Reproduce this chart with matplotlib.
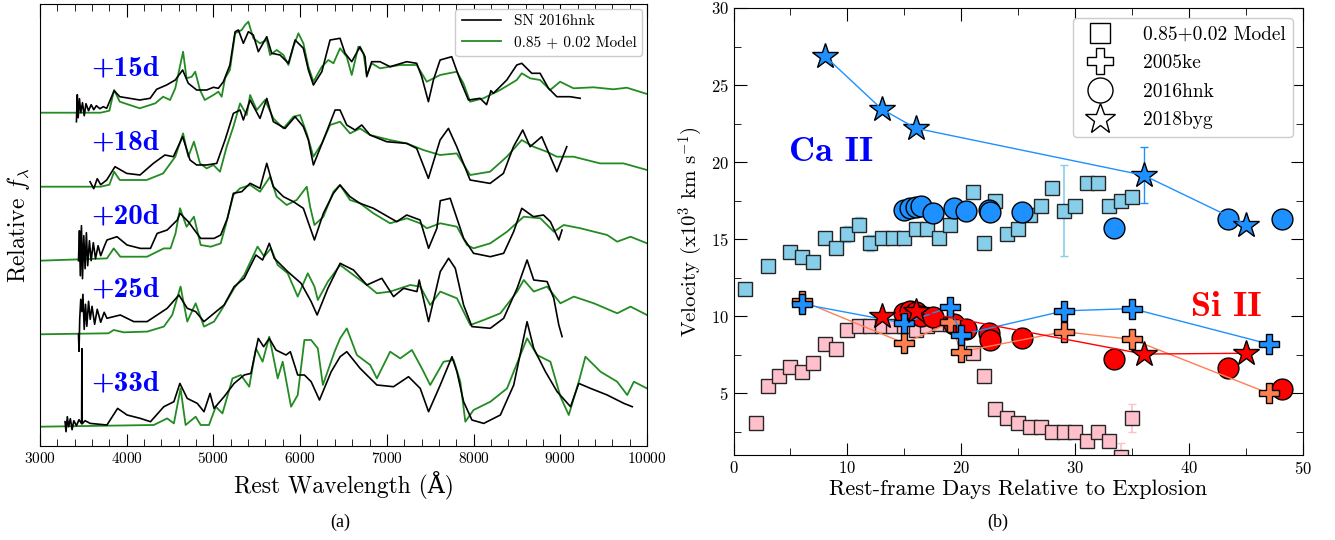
import matplotlib
matplotlib.use("Agg")
import matplotlib.pyplot as plt
from matplotlib.lines import Line2D

plt.rcParams['font.family'] = ['cmr10', 'DejaVu Serif']
plt.rcParams['mathtext.fontset'] = 'cm'
plt.rcParams['axes.formatter.use_mathtext'] = True

# ---- panel (a): spectra, (wavelength, height above baseline) ----
epochs = ["+15d", "+18d", "+20d", "+25d", "+33d"]

m15 = [(3000, 0), (3700, 0), (3800, 2), (3855, 22.7), (3920, 11), (4150, 4.4), (4330, 9.4),
       (4420, 16), (4500, 12.7), (4560, 24.4), (4650, 61), (4690, 34.4), (4750, 36), (4790, 41),
       (4845, 22.7), (4900, 12.7), (5000, 17.7), (5057, 21), (5095, 16), (5134, 34.4), (5190, 42.7),
       (5250, 79.4), (5326, 82.7), (5365, 87.7), (5403, 91), (5460, 74.4), (5537, 69.4), (5615, 72.7),
       (5653, 57.7), (5730, 62.7), (5807, 57.7), (5865, 47.7), (5922, 66), (5980, 79.4), (6037, 69.4),
       (6095, 46), (6153, 31), (6250, 46), (6326, 52.7), (6384, 49.4), (6460, 64.4), (6537, 56),
       (6595, 37.7), (6671, 66), (6730, 59.4), (6768, 37.7), (6825, 49.4), (6921, 44.4), (7037, 46),
       (7152, 47.7), (7344, 47.7), (7460, 31), (7614, 37.7), (7806, 41), (7883, 29.4), (7960, 11),
       (8113, 14.4), (8306, 22.7), (8498, 32.7), (8556, 39.4), (8652, 34.4), (8767, 32.7), (8883, 22.7),
       (8998, 31), (9152, 24.4), (9383, 25.4), (9613, 23.4), (9767, 25), (10000, 18.7)]
o15 = [(3420, -9), (3430, 18), (3440, -5), (3455, 14), (3470, 0), (3490, 10), (3510, -3), (3530, 9),
       (3560, 2), (3590, 8), (3620, 3), (3650, 7), (3690, 4), (3730, 6), (3769, 4.4), (3855, 22),
       (3920, 16), (4150, 12.7), (4270, 14.4), (4345, 23.4), (4460, 27.7), (4560, 32.7), (4645, 42.7),
       (4710, 29.4), (4807, 22.7), (4922, 22.7), (5000, 25.4), (5057, 24.4), (5115, 31), (5190, 47.7),
       (5250, 81), (5288, 82.7), (5345, 69.4), (5403, 81), (5460, 77.7), (5518, 61), (5615, 76),
       (5672, 59.4), (5768, 57.7), (5865, 49.4), (5942, 72.7), (6037, 64.4), (6095, 42.7), (6153, 27.7),
       (6250, 41), (6345, 72.7), (6460, 74.4), (6518, 59.4), (6595, 51), (6690, 66), (6748, 56),
       (6768, 36), (6825, 51), (6921, 51), (7037, 46), (7229, 51), (7344, 49.4), (7402, 36), (7479, 11),
       (7537, 32.7), (7614, 52.7), (7748, 56), (7845, 32.7), (7941, 12.7), (8075, 14.4), (8150, 8),
       (8200, 22), (8229, 19.4), (8383, 32.7), (8498, 47.7), (8556, 49.4), (8671, 39.4), (8767, 39.4),
       (8864, 24.4), (8960, 16), (9114, 16), (9229, 14.4)]

m18 = [(3000, 0), (3700, 0), (3800, 2), (3855, 15), (3920, 6.7), (4230, 6.7), (4420, 13.3), (4560, 30),
       (4650, 53.3), (4710, 30), (4775, 45), (4845, 23.3), (4922, 18.3), (5000, 21.7), (5076, 15),
       (5153, 40), (5230, 60), (5307, 83.3), (5384, 71.7), (5423, 91.7), (5500, 76.7), (5595, 86.7),
       (5691, 68.3), (5807, 58.3), (5922, 70), (5999, 71.7), (6076, 53.3), (6153, 30), (6250, 43.3),
       (6345, 61.7), (6460, 65), (6575, 53.3), (6690, 58.3), (6806, 51.7), (7037, 46.7), (7229, 43.3),
       (7421, 36.7), (7614, 31.7), (7806, 33.3), (7960, 11.7), (8190, 15), (8383, 30), (8556, 46.7),
       (8690, 40), (8844, 35), (8960, 30), (9152, 30), (9459, 23.3), (9729, 23.3), (10000, 16.7)]
o18 = [(3577, 5), (3620, -2), (3660, 8), (3700, 2), (3769, 6.7), (3865, 20), (4000, 13.3), (4153, 11.7),
       (4307, 23.3), (4440, 31.7), (4538, 30), (4645, 50), (4730, 26.7), (4807, 21.7), (4922, 21.7),
       (5038, 23.3), (5134, 46.7), (5230, 73.3), (5307, 76.7), (5345, 66.7), (5423, 86.7), (5537, 68.3),
       (5615, 88.3), (5691, 65), (5826, 58.3), (5942, 70), (6037, 60), (6095, 46.7), (6153, 21.7),
       (6268, 46.7), (6403, 76.7), (6460, 76.7), (6537, 61.7), (6633, 56.7), (6710, 61.7), (6806, 51.7),
       (6998, 45), (7229, 43.3), (7344, 38.3), (7479, 8.3), (7614, 46.7), (7710, 58.3), (7806, 40),
       (7960, 6.7), (8190, 3.3), (8344, 13.3), (8460, 40), (8567, 56.7), (8652, 40), (8786, 50),
       (8960, 15), (9075, 40)]

m20 = [(3000, 0), (3772, 2.3), (3850, 12.3), (3926, 4), (4235, 4), (4428, 12.3), (4505, 12.3),
       (4563, 27.3), (4615, 52.4), (4690, 34), (4775, 44), (4853, 15.7), (4969, 14), (5084, 17.3),
       (5142, 35.7), (5230, 65.7), (5307, 72.4), (5423, 75.7), (5537, 69), (5653, 84), (5730, 64),
       (5845, 55.7), (5960, 60.7), (6076, 74), (6115, 54), (6165, 35.7), (6268, 44), (6384, 69),
       (6460, 75.7), (6575, 60.7), (6690, 57.4), (6845, 47.4), (7037, 37.4), (7229, 42.4), (7383, 37.4),
       (7462, 32.4), (7616, 37.4), (7808, 34), (7924, 15.7), (8000, 12.4), (8193, 17.4), (8386, 29),
       (8578, 44), (8771, 42.4), (8925, 29), (9040, 35.7), (9233, 32.4), (9541, 25.7), (9656, 19),
       (9810, 24), (10000, 17.4)]
o20 = [(3444, 0), (3455, 30), (3465, -15), (3478, 35), (3490, -18), (3505, 25), (3520, -8), (3535, 28),
       (3550, -5), (3570, 20), (3590, 0), (3615, 18), (3640, 2), (3670, 15), (3700, 5), (3740, 14),
       (3772, 20.7), (3888, 24), (4004, 15.7), (4158, 12.3), (4274, 12.3), (4351, 27.3), (4467, 30.7),
       (4583, 40.7), (4615, 47.4), (4710, 39), (4853, 22.3), (5007, 22.3), (5084, 25.7), (5161, 42.3),
       (5230, 67.4), (5326, 69), (5423, 77.4), (5537, 72.4), (5615, 97.4), (5691, 74), (5807, 64),
       (5922, 59), (6037, 52.4), (6165, 20.7), (6268, 47.4), (6384, 67.4), (6460, 75.7), (6575, 64),
       (6690, 57.4), (6845, 52.4), (7114, 39), (7229, 45.7), (7383, 40.7), (7481, 12.4), (7577, 32.4),
       (7616, 60), (7730, 62.4), (7885, 22.4), (8000, 7.4), (8193, 4), (8347, 7.4), (8462, 29),
       (8556, 52.4), (8690, 44), (8806, 45.7), (8886, 39), (8983, 20.7), (9020, 30.7)]

m25 = [(3000, 0), (3790, 1), (3850, 4.3), (3965, 2), (4235, 2.7), (4428, 7.7), (4525, 19.3), (4621, 47.7),
       (4698, 12.7), (4795, 31), (4891, 7.7), (5007, 12.7), (5104, 26), (5239, 46), (5355, 59.3),
       (5509, 87.7), (5586, 77.7), (5663, 86), (5741, 69.3), (5856, 61), (5972, 37.7), (6088, 61),
       (6165, 47.7), (6204, 34.3), (6320, 52.7), (6461, 69.3), (6615, 59.3), (6769, 49.3), (6885, 41),
       (7038, 42.7), (7270, 49.3), (7385, 47.7), (7500, 29.3), (7616, 42.7), (7808, 36), (7962, 9.3),
       (8117, 14.3), (8309, 21), (8502, 42.7), (8579, 54.3), (8694, 42.7), (8848, 47.7), (9002, 31),
       (9156, 37.7), (9387, 31), (9657, 21), (9810, 27.7), (10000, 19.3)]
o25 = [(3444, 0), (3450, -17), (3458, 15), (3470, 35), (3483, 22.7), (3495, 40), (3510, 5), (3525, 30),
       (3540, 8), (3560, 33), (3579, 15), (3600, 28), (3630, 10), (3660, 25), (3700, 12), (3740, 22),
       (3772, 16), (3926, 19.3), (4081, 12.7), (4235, 12.7), (4351, 19.3), (4467, 26), (4602, 39.3),
       (4698, 26), (4795, 22.7), (4891, 12.7), (5007, 21), (5123, 29.3), (5239, 47.7), (5355, 56),
       (5490, 79.3), (5567, 74.3), (5644, 91), (5702, 76), (5856, 62.7), (6011, 51), (6127, 32.7),
       (6196, 19.3), (6320, 46), (6461, 71), (6615, 64.3), (6769, 49.3), (6942, 56), (7077, 37.7),
       (7193, 46), (7347, 42.7), (7373, 54.3), (7481, 12.7), (7616, 62.7), (7712, 76), (7789, 66),
       (7885, 29.3), (7981, 7.7), (8193, 6), (8347, 16), (8502, 46), (8617, 74.3), (8694, 54.3),
       (8848, 52.7), (8925, 36), (8983, 9.3), (9021, -2.3)]

m33 = [(3000, 0), (4312, 1.7), (4467, 8.3), (4544, 3.3), (4621, 38.3), (4679, 1.7), (4795, 10), (4853, 1.7),
       (4949, 1.7), (5027, 20), (5104, 13.3), (5220, 48.3), (5316, 51.7), (5413, 40), (5490, 78.3),
       (5567, 65), (5644, 90), (5741, 48.3), (5799, 65), (5895, 20), (5972, 31.7), (6049, 86.7),
       (6127, 86.7), (6204, 78.3), (6262, 41.7), (6397, 75), (6461, 88.3), (6538, 98.3), (6654, 71.7),
       (6808, 61.7), (6885, 48.3), (7038, 75), (7154, 68.3), (7289, 76.7), (7404, 58.3), (7500, 41.7),
       (7654, 65), (7770, 66.7), (7847, 45), (7905, 5), (8000, 16.7), (8194, 25), (8386, 38.3),
       (8540, 71.7), (8617, 88.3), (8732, 71.7), (8886, 65), (9002, 30), (9098, 11.7), (9213, 45),
       (9290, 70), (9464, 55), (9656, 45), (9772, 31.7), (9849, 45), (10000, 38.3)]
o33 = [(3289, 5), (3300, -5), (3315, 10), (3330, 0), (3350, 8), (3370, -3), (3390, 6), (3420, 1),
       (3450, 7), (3480, 3), (3483, 78), (3487, 3), (3520, 6), (3579, 3.3), (3772, 1.7), (3895, 18.3),
       (4004, 11.7), (4158, 8.3), (4274, 5), (4428, 20), (4544, 25), (4613, 43.3), (4698, 28.3),
       (4814, 23.3), (4891, 15), (4961, 33.3), (5007, 18.3), (5123, 30), (5239, 43.3), (5355, 51.7),
       (5432, 53.3), (5517, 88.3), (5579, 80), (5644, 88.3), (5721, 76.7), (5837, 71.7), (5887, 75),
       (5972, 51.7), (6049, 51.7), (6127, 45), (6223, 26.7), (6358, 55), (6461, 70), (6538, 75),
       (6692, 58.3), (6885, 41.7), (7077, 40), (7250, 50), (7385, 38.3), (7481, 15), (7616, 41.7),
       (7751, 70), (7808, 55), (7885, 25), (7981, 6.7), (8117, 3.3), (8309, 11.7), (8463, 41.7),
       (8560, 81.7), (8617, 105), (8694, 78.3), (8829, 55), (8964, 35), (9118, 20), (9213, 43.3),
       (9349, 38.3), (9541, 31.7), (9734, 23.3), (9830, 20)]

models = [m15, m18, m20, m25, m33]
observed = [o15, o18, o20, o25, o33]

# ---- panel (b): velocities (x10^3 km/s) ----
ca_model_days = [1, 3, 5, 6, 7, 8, 9, 10, 11, 12, 13, 14, 15, 16, 17, 18, 19, 21, 22, 23, 24, 25,
                 26, 27, 28, 29, 30, 31, 32, 33, 34, 35]
ca_model_vel = [11.75, 13.25, 14.15, 13.85, 13.55, 15.05, 14.45, 15.35, 15.95, 14.75, 15.05, 15.05,
                15.05, 15.65, 15.65, 15.05, 15.95, 18.05, 14.75, 17.45, 15.35, 15.65, 16.55, 17.15,
                18.35, 16.85, 17.15, 18.65, 18.65, 17.15, 17.45, 17.75]
ca_model_err = [0, 0, 0, 0, 0, 0, 0, 0.5, 0.5, 0.5, 0, 0, 0, 0, 0, 0, 0, 0, 0, 0, 0, 0,
                0, 0, 0, 2.95, 0, 0, 0, 0, 0, 0]

si_model_days = [2, 3, 4, 5, 6, 7, 8, 9, 10, 11, 12, 13, 14, 15, 16, 17, 18, 19, 20, 21, 22, 23,
                 24, 25, 26, 27, 28, 29, 30, 31, 32, 33, 34, 35]
si_model_vel = [3.1, 5.45, 6.1, 6.7, 6.4, 7.0, 8.2, 7.9, 9.1, 9.4, 9.4, 9.4, 9.4, 9.4, 9.1, 9.4, 9.5,
                9.5, 9.3, 7.6, 6.1, 4.0, 3.4, 3.1, 2.8, 2.8, 2.5, 2.5, 2.5, 1.9, 2.5, 1.9, 0.9, 3.4]
si_model_err = [0] * 32 + [0.9, 0.93]

hnk_days = [15.0, 15.5, 16.0, 16.5, 17.5, 19.4, 20.4, 22.4, 22.5, 25.3, 33.4, 43.4, 48.2]
hnk_ca = [16.9, 17.0, 17.1, 17.15, 16.7, 17.0, 16.85, 16.9, 16.75, 16.75, 15.75, 16.3, 16.3]
hnk_si = [10.2, 10.35, 10.3, 10.05, 9.95, 9.5, 9.2, 8.9, 8.45, 8.6, 7.25, 6.65, 5.3]

ke_days = [6, 15, 19, 20, 29, 35, 47]
ke_blue = [10.8, 9.55, 10.6, 8.8, 10.35, 10.5, 8.2]
ke_orange = [11.0, 8.25, 9.6, 7.7, 9.0, 8.5, 5.0]

byg_ca_days = [8, 13, 16, 36, 45]
byg_ca = [26.9, 23.45, 22.2, 19.15, 15.95]
byg_ca_err = [0, 0, 0, 1.8, 0]
byg_si_days = [13, 16, 36, 45]
byg_si = [10.05, 10.35, 7.55, 7.6]

baselines = [333.3, 259.3, 185.3, 111.7, 19.3]
label_y = [378, 304, 230, 157, 63]

fig = plt.figure(figsize=(13.35, 5.4), dpi=100)

# ---------------- left panel ----------------
ax1 = fig.add_axes([40 / 1335, 1 - 446 / 540, 607 / 1335, 442 / 540])
for i in range(len(epochs)):
    ow = [p[0] for p in observed[i]]
    of = [p[1] + baselines[i] for p in observed[i]]
    mw = [p[0] for p in models[i]]
    mf = [p[1] + baselines[i] for p in models[i]]
    ax1.plot(mw, mf, color='forestgreen', lw=1.3, zorder=2,
             label="0.85 + 0.02 Model" if i == 0 else None)
    ax1.plot(ow, of, color='black', lw=1.2, zorder=3,
             label="SN 2016hnk" if i == 0 else None)
    ax1.text(3590, label_y[i], epochs[i], color='#0000FF', fontsize=21,
             family='cmb10', va='center', ha='left')

ax1.set_xlim(3000, 10000)
ax1.set_ylim(0, 442)
ax1.set_yticks([])
ax1.set_xticks(range(3000, 10001, 1000))
ax1.set_xticks(range(3000, 10001, 200), minor=True)
ax1.tick_params(axis='x', which='both', direction='in', top=True, labelsize=11)
ax1.tick_params(axis='x', which='major', length=9)
ax1.tick_params(axis='x', which='minor', length=5)
ax1.set_xlabel("Rest Wavelength (Å)", fontsize=17, labelpad=4)
ax1.set_ylabel(r"Relative $f_\lambda$", fontsize=17, labelpad=6)
h, l = ax1.get_legend_handles_labels()
ax1.legend([h[1], h[0]], [l[1], l[0]], loc='upper right', fontsize=11,
           handlelength=2.6, borderaxespad=0.3, framealpha=1)

# ---------------- right panel ----------------
ax2 = fig.add_axes([733.5 / 1335, 1 - 455 / 540, 569.5 / 1335, 447 / 540])
sq_kw = dict(fmt='s', ms=9.5, mec='0.15', mew=1.0, elinewidth=1.2, capsize=3, zorder=2)
ax2.errorbar(ca_model_days, ca_model_vel, yerr=ca_model_err, mfc='skyblue', ecolor='skyblue', **sq_kw)
ax2.errorbar(si_model_days, si_model_vel, yerr=si_model_err, mfc='pink', ecolor='pink', **sq_kw)

ax2.plot(hnk_days, hnk_ca, 'o', ms=15, mfc='dodgerblue', mec='k', mew=1.0, zorder=3)
ax2.plot(hnk_days, hnk_si, 'o', ms=15, mfc='red', mec='k', mew=1.0, zorder=3)

ax2.plot(ke_days, ke_orange, '-', color='coral', lw=1.0, zorder=4)
ax2.plot(ke_days, ke_orange, 'P', ms=15, mfc='coral', mec='k', mew=1.0, zorder=4)
ax2.plot(ke_days, ke_blue, '-', color='dodgerblue', lw=1.0, zorder=4)
ax2.plot(ke_days, ke_blue, 'P', ms=15, mfc='dodgerblue', mec='k', mew=1.0, zorder=4)

ax2.errorbar(byg_ca_days, byg_ca, yerr=byg_ca_err, fmt='-', color='dodgerblue', lw=1.0,
             capsize=3, zorder=5)
ax2.plot(byg_ca_days, byg_ca, '*', ms=19, mfc='dodgerblue', mec='k', mew=1.0, zorder=5)
ax2.plot(byg_si_days, byg_si, '-', color='red', lw=1.0, zorder=5)
ax2.plot(byg_si_days, byg_si, '*', ms=19, mfc='red', mec='k', mew=1.0, zorder=5)

ax2.text(8.6, 20.6, "Ca II", color='#0000FF', fontsize=26, family='cmb10', ha='center', va='center')
ax2.text(43.3, 10.6, "Si II", color='red', fontsize=26, family='cmb10', ha='center', va='center')

ax2.set_xlim(0, 50)
ax2.set_ylim(1, 30)
ax2.set_xticks(range(0, 51, 10))
ax2.set_xticks(range(0, 51, 5), minor=True)
ax2.set_yticks([5, 10, 15, 20, 25, 30])
ax2.set_yticks([2.5, 7.5, 12.5, 17.5, 22.5, 27.5], minor=True)
ax2.tick_params(which='both', direction='in', top=True, right=True, labelsize=12)
ax2.tick_params(which='major', length=9)
ax2.tick_params(which='minor', length=5)
ax2.set_xlabel("Rest-frame Days Relative to Explosion", fontsize=16, labelpad=2)
ax2.set_ylabel(r"Velocity (x10$^3$ km s$^{-1}$)", fontsize=15, labelpad=4)

leg_handles = [
    Line2D([], [], ls='none', marker='s', ms=14, mfc='white', mec='k', mew=1.0),
    Line2D([], [], ls='none', marker='P', ms=19, mfc='white', mec='k', mew=1.0),
    Line2D([], [], ls='none', marker='o', ms=18, mfc='white', mec='k', mew=1.0),
    Line2D([], [], ls='none', marker='*', ms=23, mfc='white', mec='k', mew=1.0),
]
ax2.legend(leg_handles, ["0.85+0.02 Model", "2005ke", "2016hnk", "2018byg"],
           loc='upper right', fontsize=14, handletextpad=1.2, labelspacing=0.55,
           borderaxespad=0.5, framealpha=1)

fig.text(340 / 1335, 1 - 522 / 540, "(a)", ha='center', va='center', fontsize=13,
         family='Liberation Serif')
fig.text(998 / 1335, 1 - 522 / 540, "(b)", ha='center', va='center', fontsize=13,
         family='Liberation Serif')

fig.savefig("out.png", dpi=100)
